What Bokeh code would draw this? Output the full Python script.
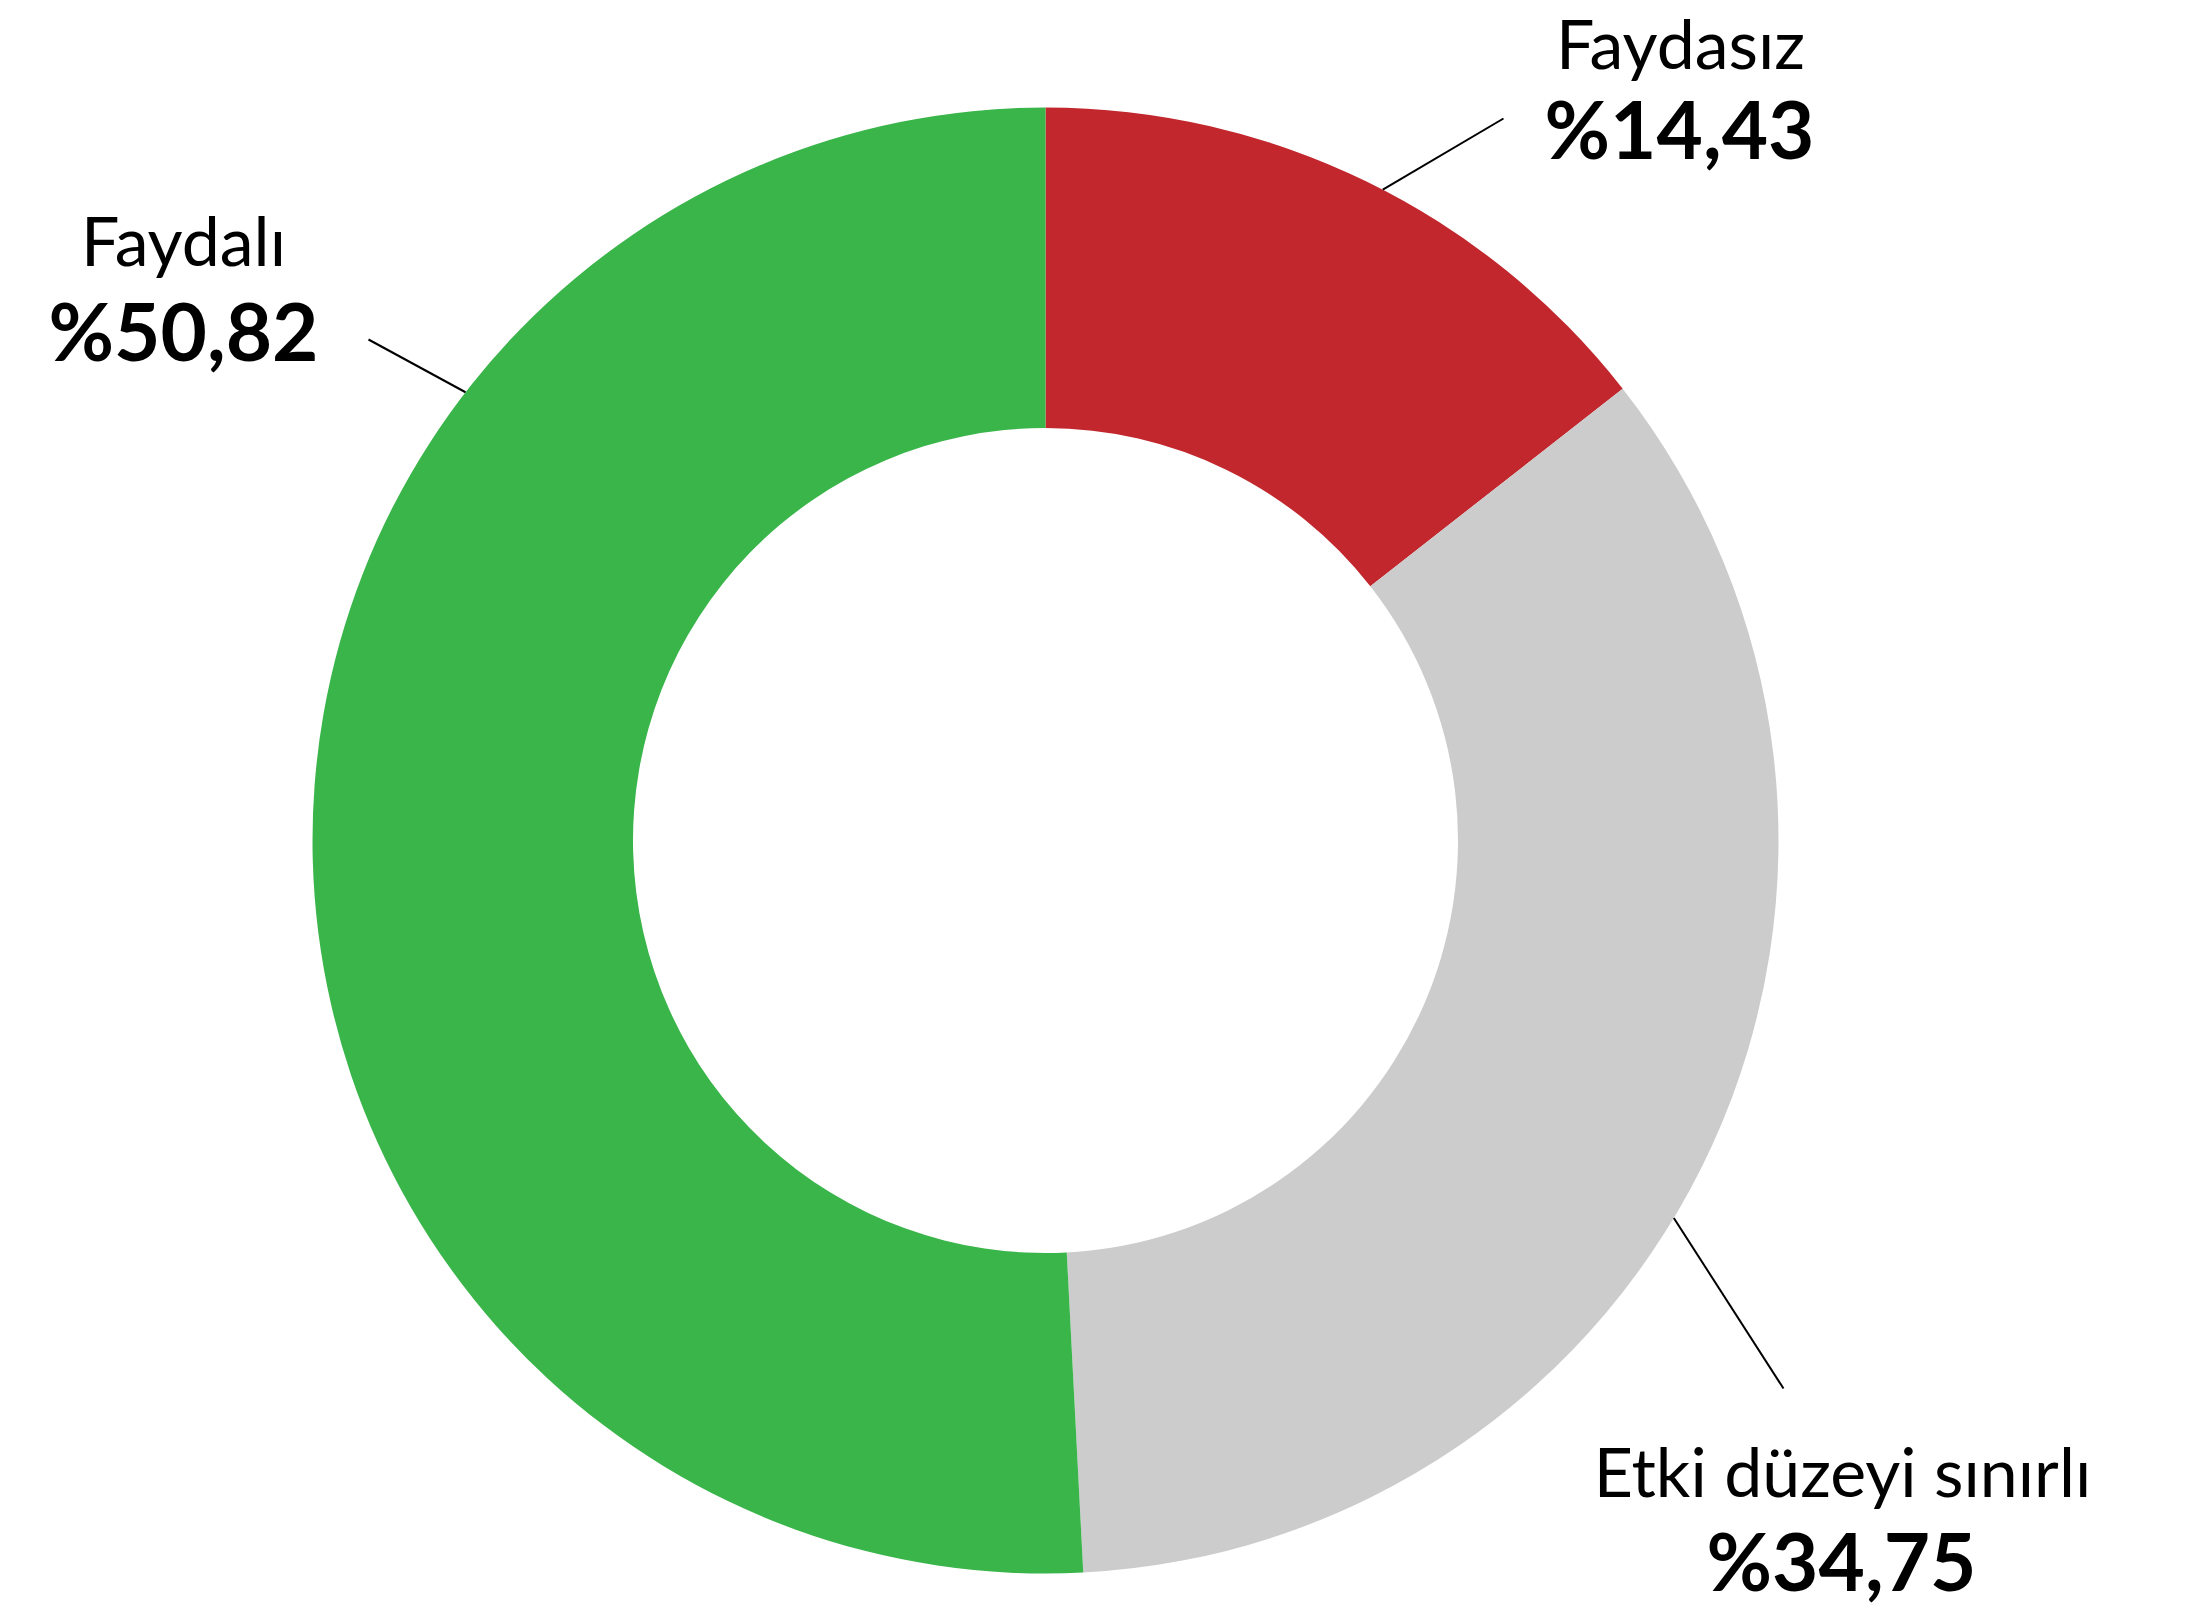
import math
from bokeh.plotting import figure
from bokeh.models import Range1d, ColumnDataSource
from bokeh.core.properties import value
from bokeh.embed import file_html
from bokeh.resources import INLINE

# ---- data ----
categories = ["Faydasız", "Etki düzeyi sınırlı", "Faydalı"]
shares = [14.43, 34.75, 50.82]
share_labels = ["%14,43", "%34,75", "%50,82"]

# ---- style / layout ----
colors = ["#C1272D", "#CCCCCC", "#39B54A"]
W, H = 2187, 1609
MID = 0.387  # text middle above baseline (em), Lato


def px(x, y):
    """page pixel (from top-left) -> data coords"""
    return x, H - y


cx, cy = px(1045, 840)
R_OUT, R_IN = 733, 412.5

p = figure(width=W, height=H, output_backend="svg", toolbar_location=None,
           x_range=Range1d(0, W), y_range=Range1d(0, H), min_border=0,
           outline_line_color=None)
p.axis.visible = False
p.grid.visible = False

total = sum(shares)
starts, ends = [], []
cum = 0.0
for s in shares:
    starts.append(math.pi / 2 - cum / total * 2 * math.pi)
    cum += s
    ends.append(math.pi / 2 - cum / total * 2 * math.pi)

src = ColumnDataSource(dict(x=[cx] * len(shares), y=[cy] * len(shares),
                            start=starts, end=ends, color=colors))
p.annular_wedge(x="x", y="y", inner_radius=R_IN, outer_radius=R_OUT,
                start_angle="start", end_angle="end", direction="clock",
                fill_color="color", line_color=None, source=src)

# leader lines: from outer edge (angle clockwise from top) to label end point
leader_angles = [27.4, 121.0, 307.7]
leader_ends = [(1503, 118), (1783, 1388), (368, 339)]
for ang, (ex, ey) in zip(leader_angles, leader_ends):
    a = math.radians(ang)
    sx = cx + R_OUT * math.sin(a)
    sy = cy + R_OUT * math.cos(a)
    exd, eyd = px(ex, ey)
    p.line([sx, exd], [sy, eyd], line_color="black", line_width=2)

FS_NAME, FS_SHARE = 68, 80
name_pos = [(1680, 68), (1842, 1496), (183, 265)]
share_pos = [(1679, 158), (1841, 1590), (183, 360)]

nx = [px(*q)[0] for q in name_pos]
ny = [px(*q)[1] + MID * FS_NAME for q in name_pos]
sx_ = [px(*q)[0] for q in share_pos]
sy_ = [px(*q)[1] + MID * FS_SHARE for q in share_pos]
p.text(x=nx, y=ny, text=categories, text_font=value("Lato"),
       text_font_size=f"{FS_NAME}px", text_align="center", text_baseline="middle",
       text_color="black")
p.text(x=sx_, y=sy_, text=share_labels, text_font=value("Lato"),
       text_font_style="bold", text_font_size=f"{FS_SHARE}px", text_align="center",
       text_baseline="middle", text_color="black")

open("out.html", "w").write(file_html(p, INLINE))
